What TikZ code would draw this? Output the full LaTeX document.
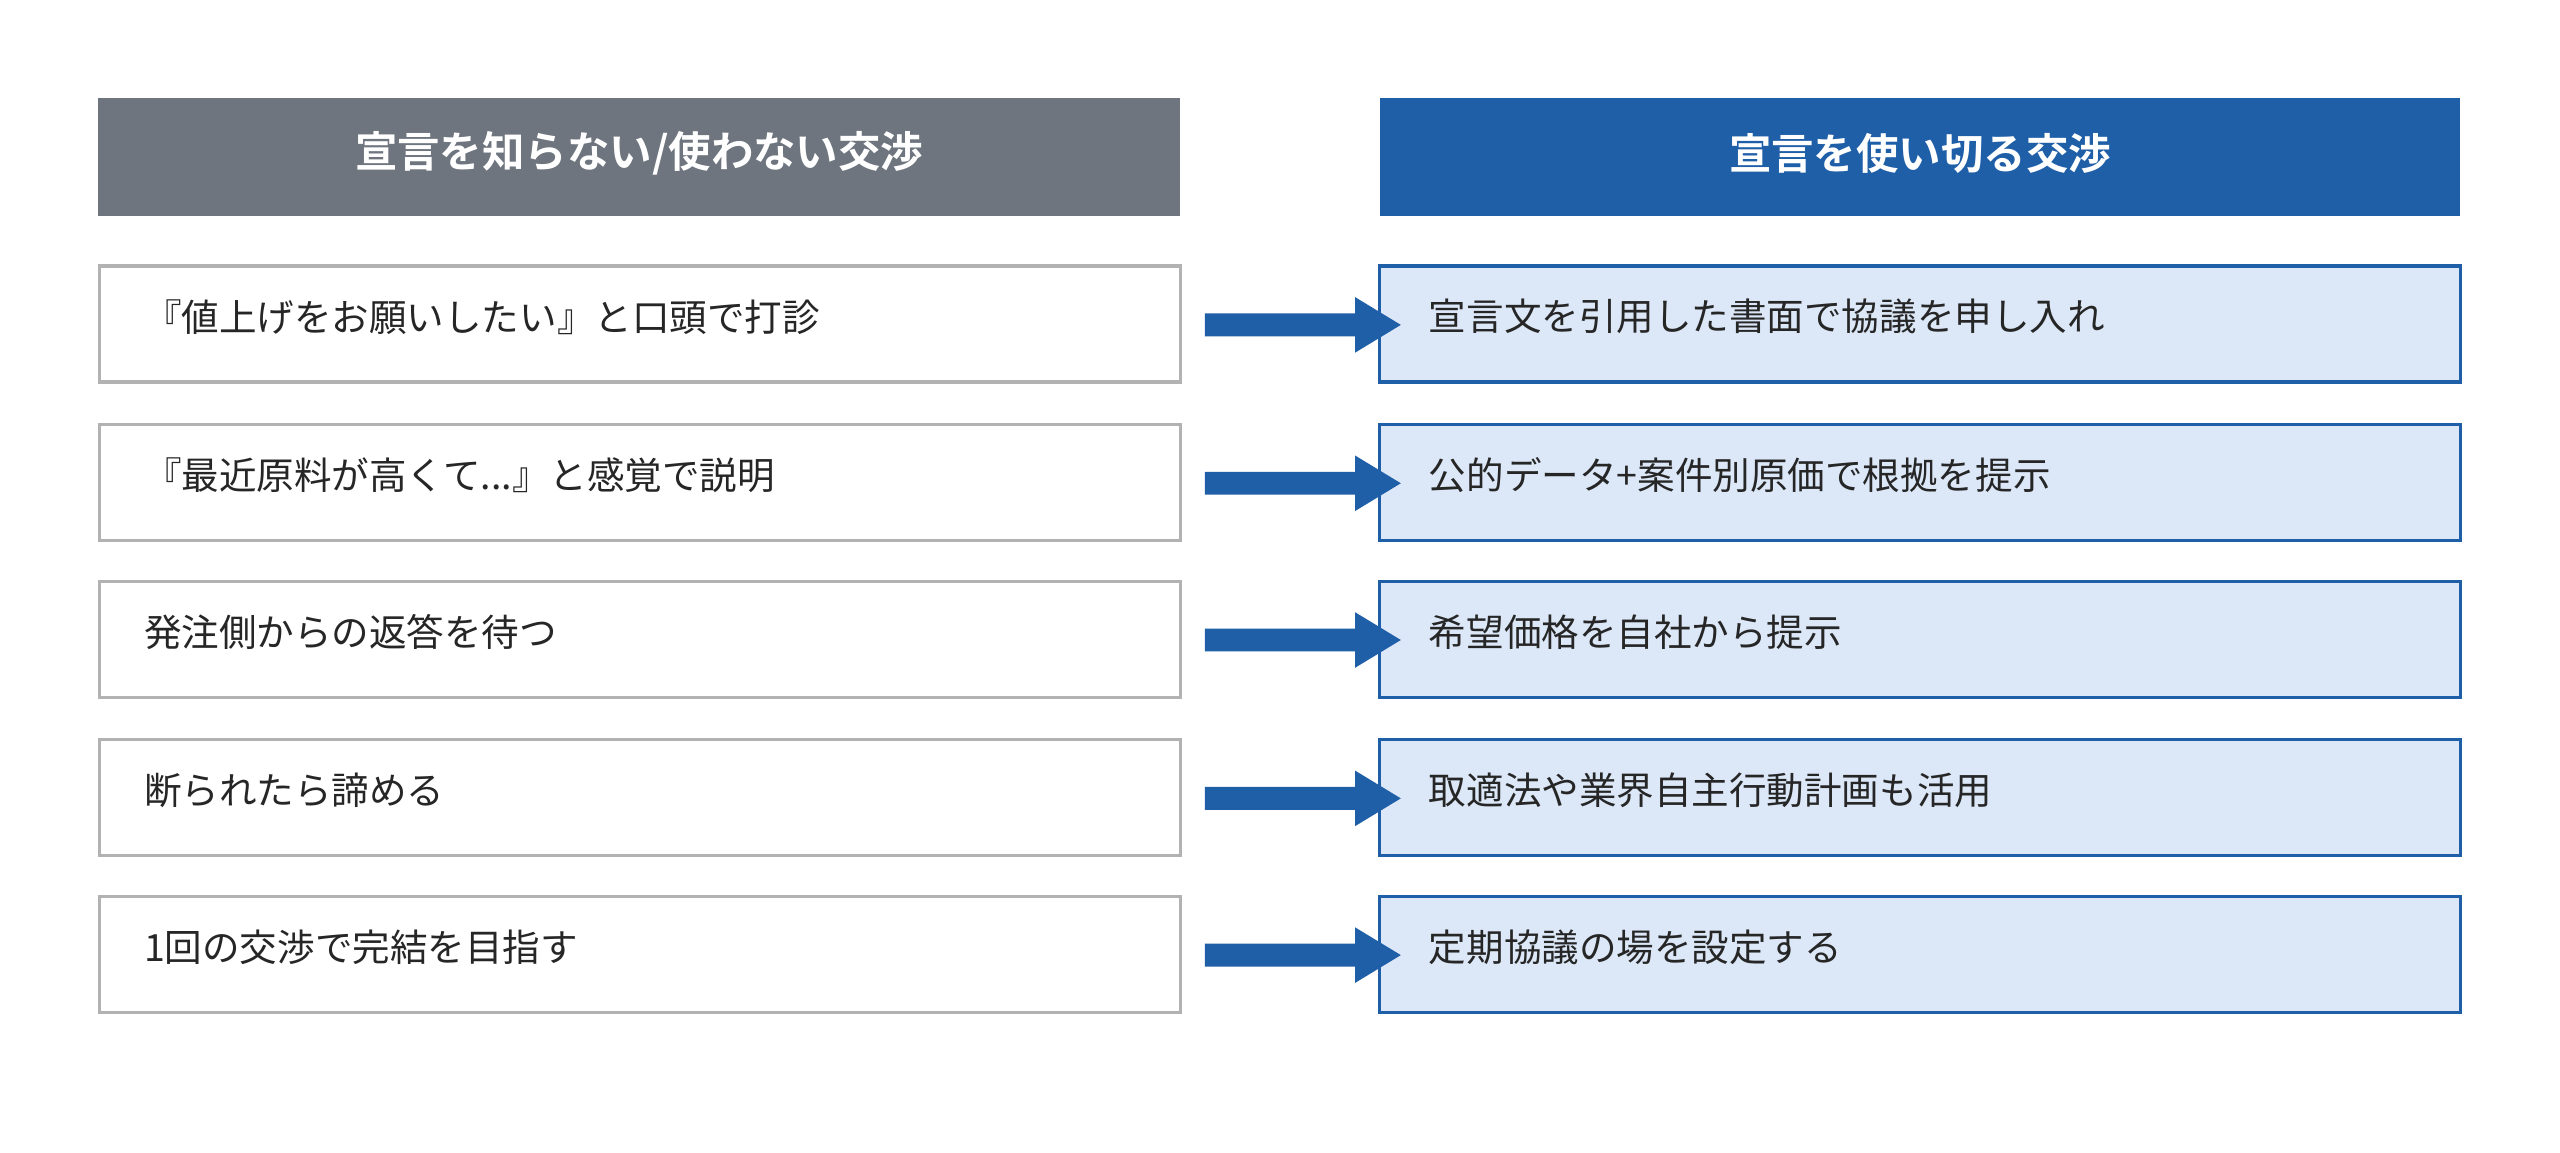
\documentclass[tikz,border=0pt]{standalone}
\usepackage{fontspec}
\setmainfont{Noto Sans CJK JP}[BoldFont={* Bold}]
\newcommand\mydots{.{}.{}.}
\begin{document}
\begin{tikzpicture}[x=1pt,y=-1pt,
 hdr/.style={draw=none,inner sep=0pt,text=white,font=\fontsize{26}{30}\selectfont\bfseries},
 lbox/.style={draw=black!30,line width=2pt,fill=white},
 rbox/.style={draw=blueC,line width=2pt,fill=blueL},
 txt/.style={anchor=west,inner sep=0pt,font=\fontsize{23}{28}\selectfont,text=black!85}]
\definecolor{grayH}{HTML}{6E757E}
\definecolor{blueC}{HTML}{1F5FA8}
\definecolor{blueL}{HTML}{DCE8F8}
\useasboundingbox (0,0) rectangle (1568,706);
\fill[white] (0,0) rectangle (1568,706);
\fill[grayH] (60,60) rectangle (723,132);
\fill[blueC] (845,60) rectangle (1507,132);
\node[hdr] (hl) at (391.5,94) {宣言を知らない/使わない交渉};
\node[hdr] (hr) at (1176,94) {宣言を使い切る交渉};
\foreach \y/\l/\r [count=\i] in {163/『値上げをお願いしたい』と口頭で打診/宣言文を引用した書面で協議を申し入れ,
 260/『最近原料が高くて\mydots』と感覚で説明/公的データ+案件別原価で根拠を提示,
 356/発注側からの返答を待つ/希望価格を自社から提示,
 453/断られたら諦める/取適法や業界自主行動計画も活用,
 549/1回の交渉で完結を目指す/定期協議の場を設定する}{
 \draw[lbox] (61,\y) rectangle (723,\y+71);
 \draw[rbox] (845,\y) rectangle (1507,\y+71);
 \node[txt] (l\i) at (88,\y+31) {\l};
 \node[txt] (r\i) at (875,\y+31) {\r};
 \fill[blueC] (738,\y+29) -- (830,\y+29) -- (830,\y+19) -- (858,\y+36) -- (830,\y+53) -- (830,\y+43) -- (738,\y+43) -- cycle;
}
\end{tikzpicture}
\end{document}
